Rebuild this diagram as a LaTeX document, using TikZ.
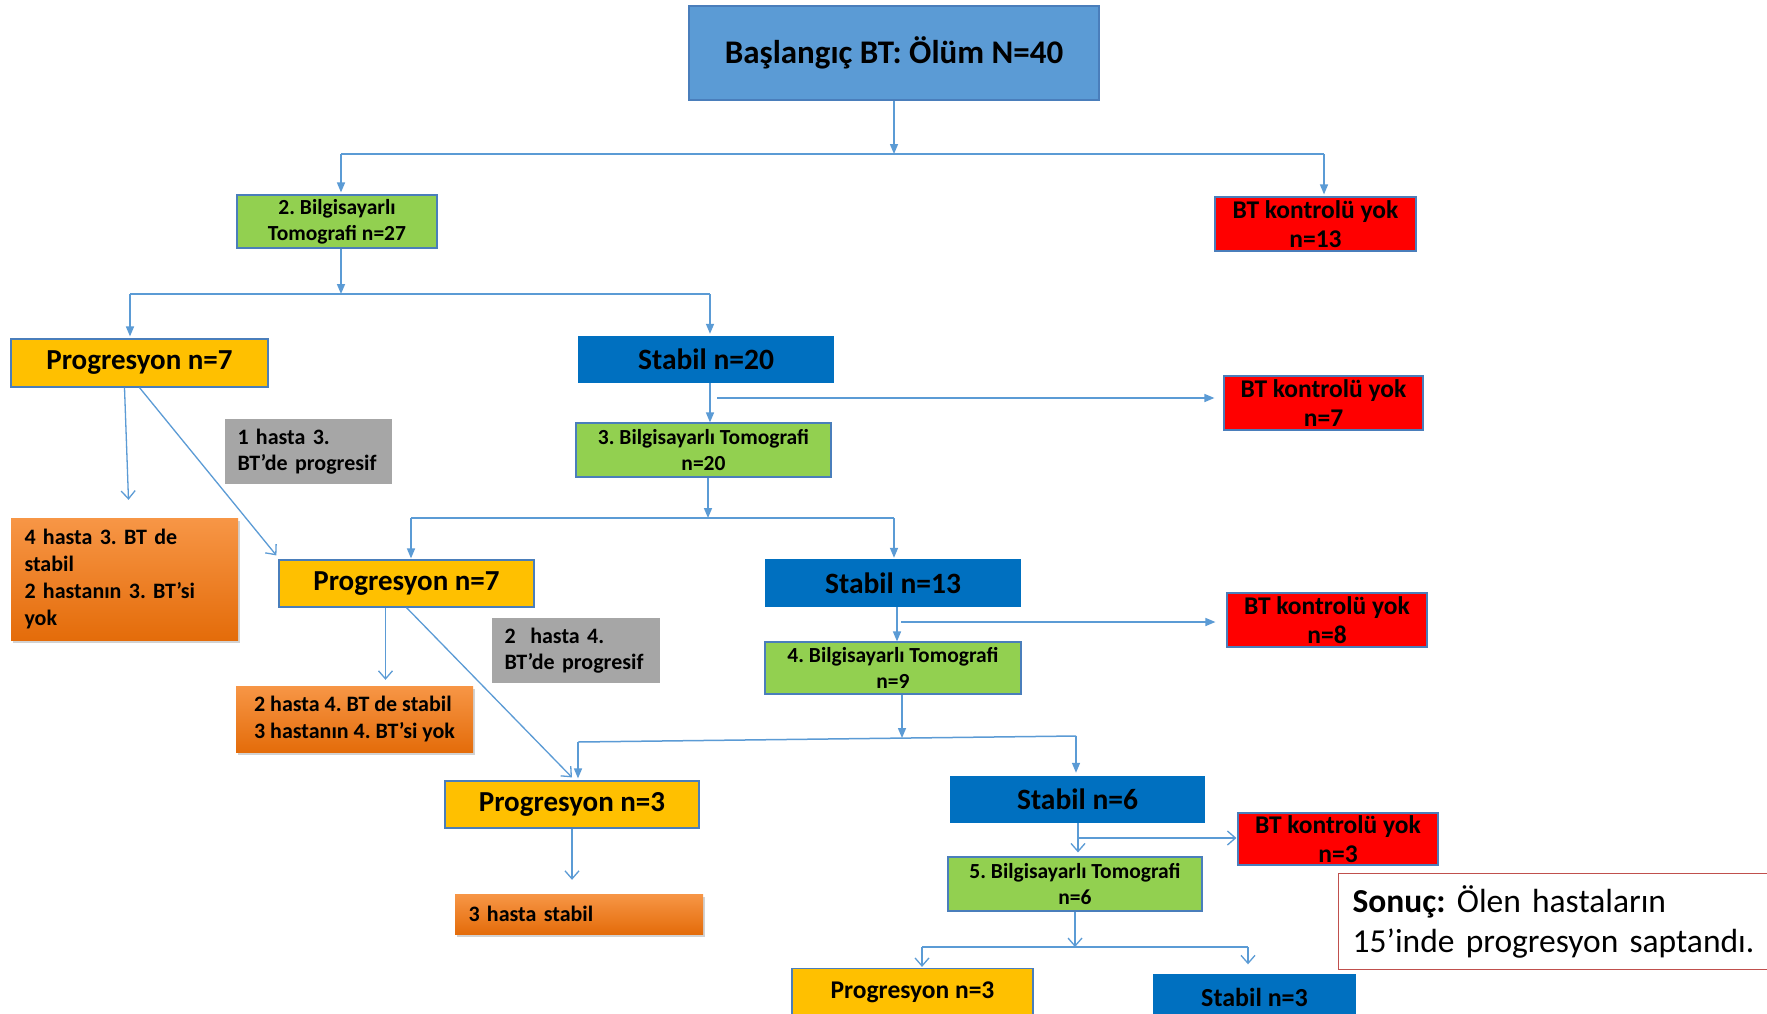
\documentclass[tikz,border=0pt]{standalone}
\usepackage{fontspec}
\setmainfont{Carlito}
\usetikzlibrary{arrows.meta,shadows,calc}
\frenchspacing
\hyphenpenalty=10000
\exhyphenpenalty=10000
\definecolor{topblue}{HTML}{5B9BD5}
\definecolor{edgeblue}{HTML}{4A7EBB}
\definecolor{lgreen}{HTML}{92D050}
\definecolor{yell}{HTML}{FFC000}
\definecolor{dblue}{HTML}{0070C0}
\definecolor{redbox}{HTML}{FF0000}
\definecolor{greybox}{HTML}{A6A6A6}
\definecolor{orgtop}{HTML}{F79646}
\definecolor{orgbot}{HTML}{E46C0A}
\definecolor{conn}{HTML}{5B9BD5}
\definecolor{sonred}{HTML}{C0504D}
\tikzset{
  box/.style={rectangle, inner sep=0pt, align=center, text=black},
  topbox/.style={box, fill=topblue, draw=edgeblue, line width=1.2pt,
     font=\fontsize{33}{38}\selectfont\bfseries},
  greenbox/.style={box, fill=lgreen, draw=edgeblue, line width=1.2pt,
     font=\fontsize{21.5}{26}\selectfont\bfseries},
  redb/.style={box, fill=redbox, draw=edgeblue, line width=1.2pt,
     font=\fontsize{25.5}{29}\selectfont\bfseries},
  yellbox/.style={box, fill=yell, draw=edgeblue, line width=1.2pt,
     font=\fontsize{29}{34}\selectfont\bfseries},
  bluebox/.style={box, fill=dblue, font=\fontsize{29.5}{34}\selectfont\bfseries},
  greyb/.style={rectangle, fill=greybox, align=left, inner xsep=12.5pt, inner ysep=0pt,
     font=\fontsize{22}{26.5}\selectfont\bfseries},
  orangeb/.style={rectangle, top color=orgtop, bottom color=orgbot, align=left,
     inner xsep=13.5pt, inner ysep=0pt,
     drop shadow={shadow xshift=2pt, shadow yshift=-3pt, opacity=0.35},
     font=\fontsize{22}{27}\selectfont\bfseries},
  cline/.style={draw=conn, line width=1.5pt},
  fa/.style={cline, -{Triangle[length=10pt,width=8pt]}},
  oa/.style={cline, line width=1.3pt, -{Straight Barb[length=8pt,width=14pt,line width=1.3pt]}},
}
\begin{document}
\begin{tikzpicture}[x=1pt,y=-1pt]
\useasboundingbox (0,0) rectangle (1767,1013);
\clip (0,0) rectangle (1767,1013);
\fill[white] (0,0) rectangle (1767,1013);

% nodes
\node[topbox, minimum width=410pt, minimum height=94pt] (top) at (894,53) {Başlangıç BT: Ölüm N=40};
\node[greenbox, minimum width=200pt, minimum height=53pt] (g2) at (337,221.5) {2. Bilgisayarlı\\Tomografi n=27};
\node[redb, minimum width=201pt, minimum height=54pt] (r13) at (1315.5,224) {BT kontrolü yok\\n=13};
\node[yellbox, minimum width=257pt, minimum height=48pt] (p7a) at (139.5,363) {Progresyon n=7};
\node[bluebox, minimum width=256pt, minimum height=47pt] (s20) at (706,359.5) {Stabil n=20};
\node[redb, minimum width=199pt, minimum height=54pt] (r7) at (1323.5,403) {BT kontrolü yok\\n=7};
\node[greenbox, minimum width=255pt, minimum height=54pt] (g3) at (703.5,450) {3. Bilgisayarlı Tomografi\\n=20};
\node[greyb, text width=142pt, minimum height=65pt] (gr1) at (308.5,451.5) {1 hasta 3.\\BT’de progresif};
\node[orangeb, text width=200pt, minimum height=122pt] (o1) at (124.5,579) {4 hasta 3. BT de\\stabil\\2 hastanın 3. BT’si\\yok};
\node[yellbox, minimum width=255pt, minimum height=47pt] (p7b) at (406.5,583.5) {Progresyon n=7};
\node[bluebox, minimum width=256pt, minimum height=48pt] (s13) at (893,583) {Stabil n=13};
\node[redb, minimum width=200pt, minimum height=54pt] (r8) at (1327,620) {BT kontrolü yok\\n=8};
\node[greenbox, minimum width=256pt, minimum height=52pt] (g4) at (893,668) {4. Bilgisayarlı Tomografi\\n=9};
\node[orangeb, inner xsep=0pt, minimum width=237pt, minimum height=66pt] (o2) at (354.5,719) {2 hasta 4. BT de stabil\\3 hastanın 4. BT’si yok};
\node[greyb, text width=143pt, minimum height=65pt] (gr2) at (576,650.5) {2\ \ hasta 4.\\BT’de progresif};
\node[yellbox, minimum width=254pt, minimum height=47pt] (p3a) at (572,804.5) {Progresyon n=3};
\node[bluebox, minimum width=255pt, minimum height=47pt] (s6) at (1077.5,799.5) {Stabil n=6};
\node[redb, minimum width=200pt, minimum height=52pt] (r3) at (1338,839) {BT kontrolü yok\\n=3};
\node[greenbox, minimum width=254pt, minimum height=54pt] (g5) at (1075,884) {5. Bilgisayarlı Tomografi\\n=6};
\node[orangeb, text width=221pt, minimum height=40pt] (o3) at (579,914) {3 hasta stabil};
\node[yellbox, minimum width=241pt, minimum height=47pt, font=\fontsize{25.5}{30}\selectfont\bfseries] (p3b) at (912.5,992) {Progresyon n=3};
\node[bluebox, minimum width=203pt, minimum height=47pt, font=\fontsize{26}{30}\selectfont\bfseries] (s3) at (1254.5,997) {Stabil n=3};
\node[rectangle, draw=sonred, line width=1.2pt, fill=white, anchor=north west,
      minimum height=96pt, text width=420pt, inner xsep=14pt, inner ysep=0pt, align=left,
      font=\fontsize{33.5}{40}\selectfont] (son) at (1338,873)
      {\textbf{Sonuç:} Ölen hastaların\\15’inde progresyon saptandı.};

% junction coordinates
\coordinate (j1) at (894,154);
\coordinate (j1L) at (341,154);
\coordinate (j1R) at (1324,154);
\coordinate (j2) at (341,294);
\coordinate (j2L) at (130,294);
\coordinate (j2R) at (710,294);
\coordinate (b7) at (717,398);
\coordinate (j3) at (708,518);
\coordinate (j3L) at (411,518);
\coordinate (j3R) at (894,518);
\coordinate (v13) at (897,607);
\coordinate (b8) at (901,622);
\coordinate (j4) at (902,738);
\coordinate (j4L) at (578,742);
\coordinate (j4R) at (1076,736);
\coordinate (b3) at (1078,838);
\coordinate (j5) at (1075,947);
\coordinate (j5L) at (922,947);
\coordinate (j5R) at (1248,947);

% connectors (filled tips)
\draw[fa] (top.south) -- (j1);
\draw[cline] (j1L) -- (j1R);
\draw[fa, shorten >=2pt] (j1L) -- (j1L |- g2.north);
\draw[fa, shorten >=2pt] (j1R) -- (j1R |- r13.north);
\draw[fa] (j2 |- g2.south) -- (j2);
\draw[cline] (j2L) -- (j2R);
\draw[fa, shorten >=2pt] (j2L) -- (j2L |- p7a.north);
\draw[fa, shorten >=2pt] (j2R) -- (j2R |- s20.north);
\draw[fa] (j2R |- s20.south) -- (j2R |- g3.north);
\draw[fa, shorten >=9pt] (b7) -- (b7 -| r7.west);
\draw[fa] (j3 |- g3.south) -- (j3);
\draw[cline] (j3L) -- (j3R);
\draw[fa, shorten >=1pt] (j3L) -- (j3L |- p7b.north);
\draw[fa, shorten >=1pt] (j3R) -- (j3R |- s13.north);
\draw[fa] (v13) -- (v13 |- g4.north);
\draw[fa, shorten >=11pt] (b8) -- (b8 -| r8.west);
\draw[fa] (j4 |- g4.south) -- (j4);
\draw[cline] (j4L) -- (j4R);
\draw[fa, shorten >=2pt] (j4L) -- (j4L |- p3a.north);
\draw[fa, shorten >=3pt] (j4R) -- (j4R |- s6.north);

% connectors (open tips)
\draw[oa] ([xshift=-15pt]p7a.south) -- ([xshift=4pt,yshift=18pt]o1.north);
\draw[oa] (p7a.south) -- ([xshift=-2pt,yshift=4pt]p7b.north west);
\draw[oa] ([xshift=-21pt]p7b.south) -- ([xshift=31pt,yshift=6pt]o2.north);
\draw[oa] (p7b.south) -- ([yshift=3pt]p3a.north);
\draw[oa, shorten >=14pt] (p3a.south) -- (p3a.south |- o3.north);
\draw[oa, shorten >=4pt] (b3 |- s6.south) -- (b3 |- g5.north);
\draw[oa, shorten >=1pt] (b3) -- (b3 -| r3.west);
\draw[oa] (g5.south) -- (j5);
\draw[cline] (j5L) -- (j5R);
\draw[oa, shorten >=1pt] (j5L) -- (j5L |- p3b.north);
\draw[oa, shorten >=9pt] (j5R) -- (j5R |- s3.north);
\end{tikzpicture}
\end{document}
